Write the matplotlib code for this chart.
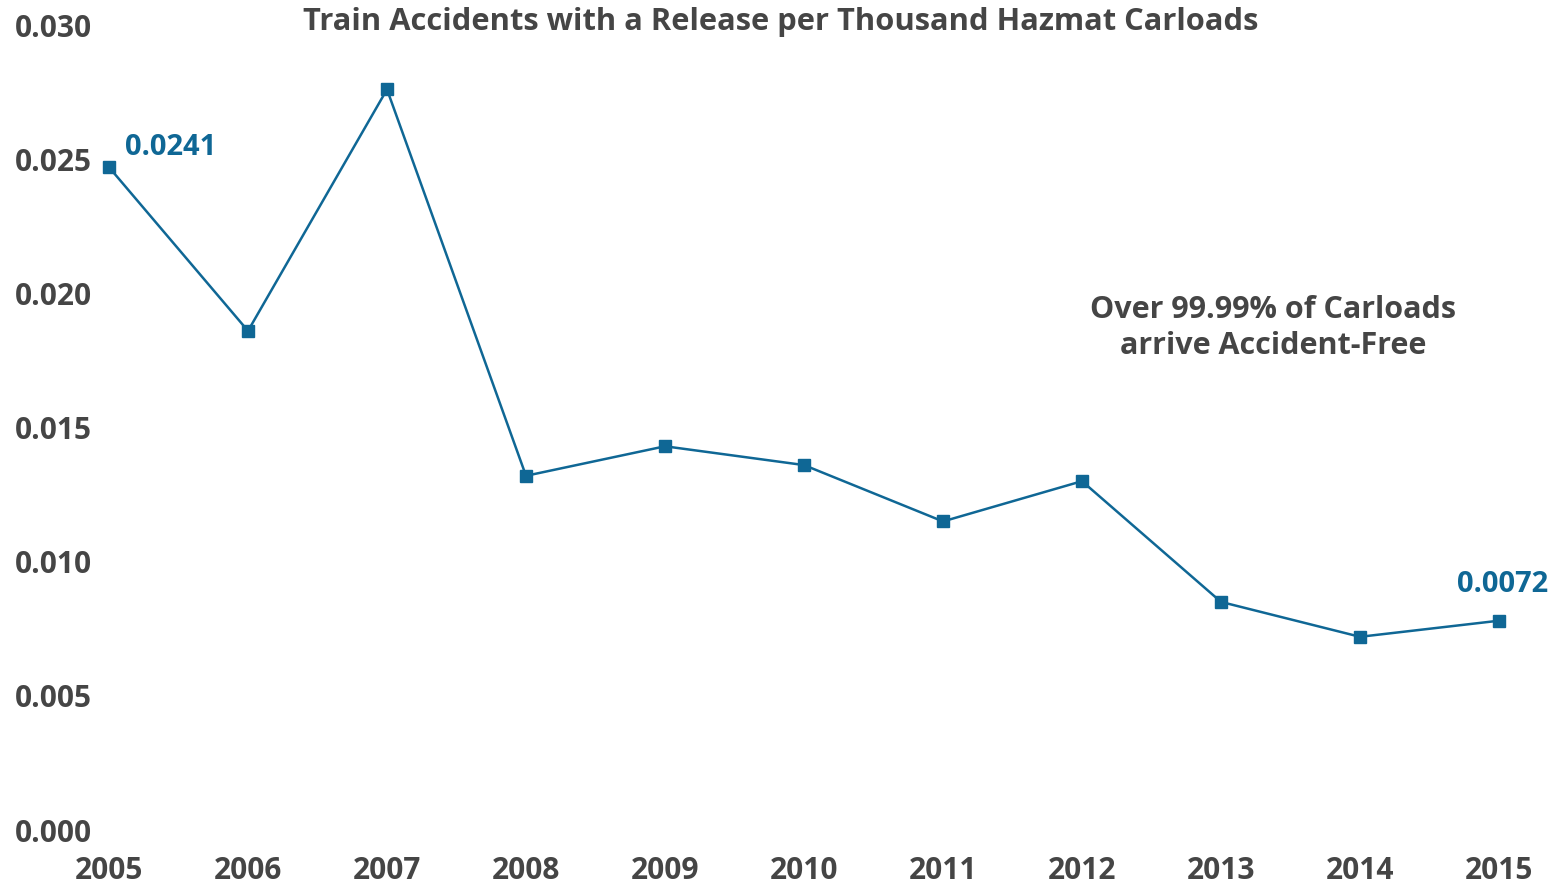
import matplotlib
matplotlib.use("Agg")
import matplotlib.pyplot as plt

plt.rcParams['font.family'] = ['Open Sans', 'DejaVu Sans']

years = [2005, 2006, 2007, 2008, 2009, 2010, 2011, 2012, 2013, 2014, 2015]
rates = [0.0247, 0.0186, 0.0276, 0.0132, 0.0143, 0.0136, 0.0115, 0.0130, 0.0085, 0.0072, 0.0078]
y_ticks = [0.000, 0.005, 0.010, 0.015, 0.020, 0.025, 0.030]
first_label = "0.0241"
last_label = "0.0072"

BLUE = "#0f6795"
GRAY = "#454545"
W, H = 1557, 885

fig = plt.figure(figsize=(W / 100, H / 100), dpi=100)
ax = fig.add_axes([109 / W, 1 - 830 / H, (1499 - 109) / W, (830 - 25) / H])

ax.plot(years, rates, color=BLUE, lw=1.8, marker='s', markersize=8.5, clip_on=False, zorder=3)
ax.set_xlim(years[0], years[-1])
ax.set_ylim(0, 0.030)
ax.set_xticks(years)
ax.set_xticklabels([str(y) for y in years])
ax.set_yticks(y_ticks)
ax.set_yticklabels([f"{v:.3f}" for v in y_ticks])
for s in ax.spines.values():
    s.set_visible(False)
ax.tick_params(axis='both', length=0, labelsize=21.5, labelcolor=GRAY)
ax.tick_params(axis='y', pad=12)
ax.tick_params(axis='x', pad=19)
for lbl in ax.get_xticklabels() + ax.get_yticklabels():
    lbl.set_fontweight('bold')

ax.annotate(first_label, xy=(years[0], rates[0]), xytext=(16, 20), textcoords='offset pixels',
            color=BLUE, fontsize=21, fontweight='bold', ha='left', va='center')
ax.annotate(last_label, xy=(years[-1], rates[-1]), xytext=(4, 36), textcoords='offset pixels',
            color=BLUE, fontsize=21, fontweight='bold', ha='center', va='center')

fig.text(781 / W, 1 - 22 / H, "Train Accidents with a Release per Thousand Hazmat Carloads",
         ha='center', va='center', fontsize=22.2, fontweight='bold', color=GRAY)
fig.text(1273 / W, 1 - 328 / H, "Over 99.99% of Carloads\narrive Accident-Free",
         ha='center', va='center', fontsize=22, fontweight='bold', color=GRAY, linespacing=1.3)

fig.savefig("out.png", dpi=100)
